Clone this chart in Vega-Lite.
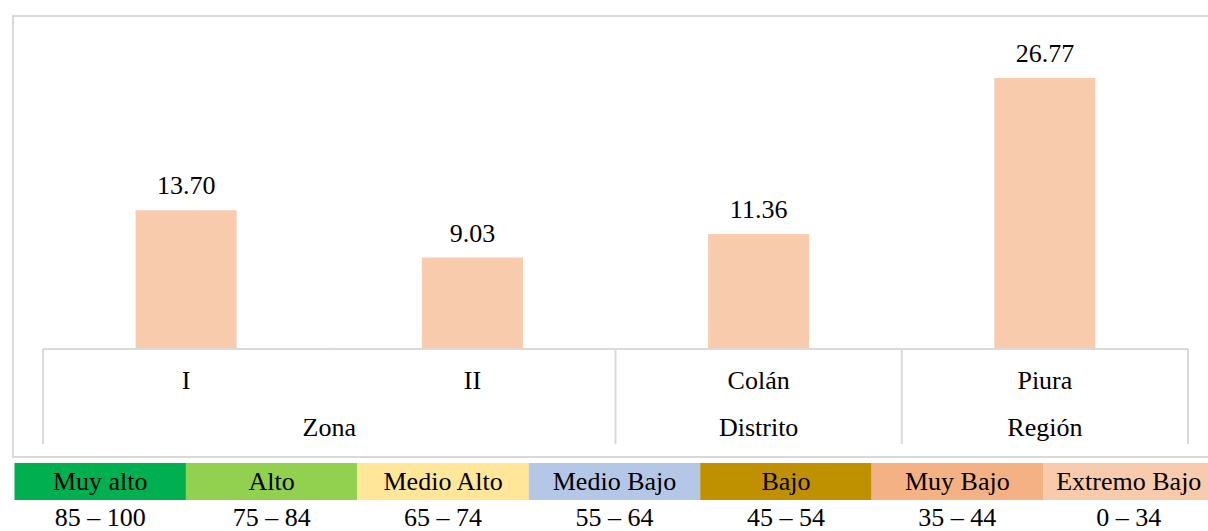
{
  "$schema": "https://vega.github.io/schema/vega-lite/v6.json",
  "padding": {"left": 12, "top": 15, "right": 0, "bottom": 0},
  "spacing": 5,
  "background": "white",
  "config": {"view": {"stroke": null}, "font": "Liberation Serif", "text": {"font": "Liberation Serif", "fontSize": 26, "color": "#000000"}},
  "datasets": {
    "main": [
      {"cat": "I", "group": "Zona", "value": 13.70},
      {"cat": "II", "group": "Zona", "value": 9.03},
      {"cat": "Colán", "group": "Distrito", "value": 11.36},
      {"cat": "Piura", "group": "Región", "value": 26.77}
    ],
    "niveles": [
      {"nivel": "Muy alto", "rango": "85 – 100"},
      {"nivel": "Alto", "rango": "75 – 84"},
      {"nivel": "Medio Alto", "rango": "65 – 74"},
      {"nivel": "Medio Bajo", "rango": "55 – 64"},
      {"nivel": "Bajo", "rango": "45 – 54"},
      {"nivel": "Muy Bajo", "rango": "35 – 44"},
      {"nivel": "Extremo Bajo", "rango": "0 – 34"}
    ]
  },
  "vconcat": [
    {
      "width": 1196,
      "height": 441,
      "view": {"stroke": "#d9d9d9", "strokeWidth": 2},
      "data": {"name": "main"},
      "layer": [
        {
          "mark": {"type": "bar", "color": "#F8CBAD", "width": {"band": 0.353}},
          "encoding": {
            "x": {"field": "cat", "type": "nominal", "sort": null, "axis": null,
                  "scale": {"range": [30, 1175], "paddingInner": 0, "paddingOuter": 0}},
            "y": {"field": "value", "type": "quantitative", "axis": null,
                  "scale": {"domain": [-10.67, 32.9], "nice": false, "zero": false}},
            "y2": {"datum": 0}
          }
        },
        {
          "mark": {"type": "text", "baseline": "alphabetic", "dy": -16, "font": "Liberation Serif", "fontSize": 26},
          "encoding": {
            "x": {"field": "cat", "type": "nominal", "sort": null, "axis": null},
            "y": {"field": "value", "type": "quantitative", "axis": null},
            "text": {"field": "value", "type": "quantitative", "format": ".2f"}
          }
        },
        {
          "mark": {"type": "text", "baseline": "alphabetic", "font": "Liberation Serif", "fontSize": 26},
          "encoding": {
            "x": {"field": "cat", "type": "nominal", "sort": null, "axis": null},
            "y": {"datum": -3.98, "type": "quantitative", "axis": null},
            "text": {"field": "cat"}
          }
        },
        {
          "transform": [{"filter": "datum.cat === 'I'"}],
          "mark": {"type": "text", "baseline": "alphabetic", "font": "Liberation Serif", "fontSize": 26},
          "encoding": {
            "x": {"field": "cat", "type": "nominal", "sort": null, "axis": null, "bandPosition": 1},
            "y": {"datum": -8.6, "type": "quantitative", "axis": null},
            "text": {"field": "group"}
          }
        },
        {
          "transform": [{"filter": "datum.group !== 'Zona'"}],
          "mark": {"type": "text", "baseline": "alphabetic", "font": "Liberation Serif", "fontSize": 26},
          "encoding": {
            "x": {"field": "cat", "type": "nominal", "sort": null, "axis": null},
            "y": {"datum": -8.6, "type": "quantitative", "axis": null},
            "text": {"field": "group"}
          }
        },
        {
          "mark": {"type": "rule", "color": "#d9d9d9", "strokeWidth": 2},
          "encoding": {
            "x": {"field": "cat", "type": "nominal", "sort": null, "axis": null, "bandPosition": 0},
            "x2": {"field": "cat", "bandPosition": 1},
            "y": {"datum": 0, "type": "quantitative", "axis": null}
          }
        },
        {
          "transform": [{"filter": "datum.cat !== 'II'"}],
          "mark": {"type": "rule", "color": "#d9d9d9", "strokeWidth": 2},
          "encoding": {
            "x": {"field": "cat", "type": "nominal", "sort": null, "axis": null, "bandPosition": 0},
            "y": {"datum": 0, "type": "quantitative", "axis": null},
            "y2": {"datum": -9.39}
          }
        },
        {
          "transform": [{"filter": "datum.cat === 'Piura'"}],
          "mark": {"type": "rule", "color": "#d9d9d9", "strokeWidth": 2},
          "encoding": {
            "x": {"field": "cat", "type": "nominal", "sort": null, "axis": null, "bandPosition": 1},
            "y": {"datum": 0, "type": "quantitative", "axis": null},
            "y2": {"datum": -9.39}
          }
        }
      ]
    },
    {
      "width": 1196,
      "height": 37,
      "data": {"name": "niveles"},
      "layer": [
        {
          "mark": {"type": "rect", "clip": true},
          "encoding": {
            "x": {"field": "nivel", "type": "nominal", "sort": null, "axis": null,
                  "scale": {"range": [1.5, 1201.5], "paddingInner": 0, "paddingOuter": 0}},
            "color": {"field": "nivel", "type": "nominal", "sort": null, "legend": null,
                      "scale": {"domain": ["Muy alto", "Alto", "Medio Alto", "Medio Bajo", "Bajo", "Muy Bajo", "Extremo Bajo"],
                                "range": ["#00B050", "#92D050", "#FFE699", "#B4C7E7", "#BF9000", "#F4B183", "#F8CBAD"]}}
          }
        },
        {
          "mark": {"type": "text", "baseline": "middle", "font": "Liberation Serif", "fontSize": 26},
          "encoding": {
            "x": {"field": "nivel", "type": "nominal", "sort": null, "axis": null},
            "text": {"field": "nivel"}
          }
        },
        {
          "mark": {"type": "text", "baseline": "middle", "dy": 36, "font": "Liberation Serif", "fontSize": 26},
          "encoding": {
            "x": {"field": "nivel", "type": "nominal", "sort": null, "axis": null},
            "text": {"field": "rango"}
          }
        }
      ]
    }
  ]
}
